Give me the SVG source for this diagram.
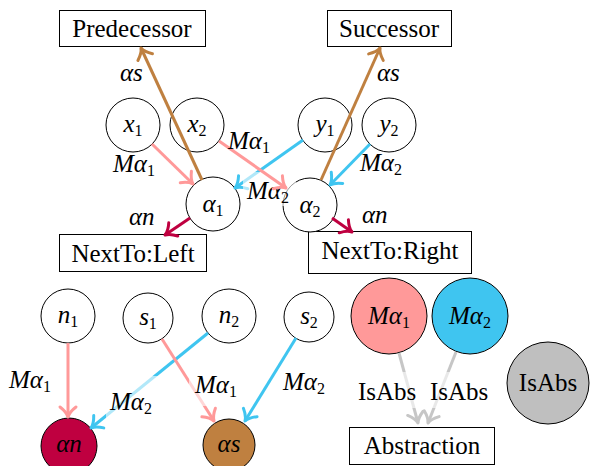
<svg xmlns="http://www.w3.org/2000/svg" width="590" height="466" viewBox="0 0 590 466" font-family="Liberation Serif, DejaVu Serif, serif" font-size="25">
<style>
.it{font-style:italic}
.sb{font-size:16px}
.c{text-anchor:middle}
.nd{fill:#fff;stroke:#000;stroke-width:1}
.bx{fill:#fff;stroke:#000;stroke-width:1}
.e{fill:none;stroke-width:3}
.pk{stroke:#FF9999}
.bl{stroke:#3FC5F0}
.br{stroke:#BF8040}
.cr{stroke:#BF0040}
.gr{stroke:#C6C6C6}
.lb{fill:#fff;fill-opacity:0.6}
</style>
<defs>
<marker id="mP" markerUnits="userSpaceOnUse" viewBox="-14 -12 18 24" refX="0" refY="0" markerWidth="18" markerHeight="24" orient="auto"><path d="M-10,-8 Q-5,-1.5 0,0 Q-5,1.5 -10,8" fill="none" stroke="#FF9999" stroke-width="3" stroke-linecap="round" stroke-linejoin="round"/></marker>
<marker id="mB" markerUnits="userSpaceOnUse" viewBox="-14 -12 18 24" refX="0" refY="0" markerWidth="18" markerHeight="24" orient="auto"><path d="M-10,-8 Q-5,-1.5 0,0 Q-5,1.5 -10,8" fill="none" stroke="#3FC5F0" stroke-width="3" stroke-linecap="round" stroke-linejoin="round"/></marker>
<marker id="mR" markerUnits="userSpaceOnUse" viewBox="-14 -12 18 24" refX="0" refY="0" markerWidth="18" markerHeight="24" orient="auto"><path d="M-10,-8 Q-5,-1.5 0,0 Q-5,1.5 -10,8" fill="none" stroke="#BF8040" stroke-width="3" stroke-linecap="round" stroke-linejoin="round"/></marker>
<marker id="mC" markerUnits="userSpaceOnUse" viewBox="-14 -12 18 24" refX="0" refY="0" markerWidth="18" markerHeight="24" orient="auto"><path d="M-10,-8 Q-5,-1.5 0,0 Q-5,1.5 -10,8" fill="none" stroke="#BF0040" stroke-width="3" stroke-linecap="round" stroke-linejoin="round"/></marker>
<marker id="mG" markerUnits="userSpaceOnUse" viewBox="-14 -12 18 24" refX="0" refY="0" markerWidth="18" markerHeight="24" orient="auto"><path d="M-10,-8 Q-5,-1.5 0,0 Q-5,1.5 -10,8" fill="none" stroke="#C6C6C6" stroke-width="3" stroke-linecap="round" stroke-linejoin="round"/></marker>
</defs>
<rect width="590" height="466" fill="#fff"/>

<g id="predecessor"><rect class="bx" x="59.5" y="10.5" width="146" height="36"/><text class="c" x="132" y="37">Predecessor</text></g>
<g id="successor"><rect class="bx" x="327.5" y="10.5" width="124" height="36"/><text class="c" x="389" y="37">Successor</text></g>
<g id="nextLeft"><rect class="bx" x="59.5" y="234.5" width="147" height="37"/><text class="c" x="133" y="262">NextTo:Left</text></g>
<g id="nextRight"><rect class="bx" x="308.5" y="231.5" width="163" height="42"/><text class="c" x="390" y="259">NextTo:Right</text></g>
<g id="abstraction"><rect class="bx" x="349.5" y="427.5" width="145" height="37"/><text class="c" x="422" y="454">Abstraction</text></g>

<g id="x1"><circle class="nd" cx="133" cy="125" r="27"/><text class="c" x="133" y="132"><tspan class="it">x</tspan><tspan class="sb" dy="4">1</tspan></text></g>
<g id="x2"><circle class="nd" cx="197" cy="125" r="27"/><text class="c" x="197" y="132"><tspan class="it">x</tspan><tspan class="sb" dy="4">2</tspan></text></g>
<g id="y1"><circle class="nd" cx="325" cy="125" r="27"/><text class="c" x="325" y="132"><tspan class="it">y</tspan><tspan class="sb" dy="4">1</tspan></text></g>
<g id="y2"><circle class="nd" cx="389" cy="125" r="27"/><text class="c" x="389" y="132"><tspan class="it">y</tspan><tspan class="sb" dy="4">2</tspan></text></g>
<g id="alpha1"><circle class="nd" cx="213" cy="204" r="27"/><text class="c" x="213" y="212"><tspan class="it">α</tspan><tspan class="sb" dy="4">1</tspan></text></g>
<g id="alpha2"><circle class="nd" cx="310" cy="205" r="27"/><text class="c" x="310" y="213"><tspan class="it">α</tspan><tspan class="sb" dy="4">2</tspan></text></g>

<g id="n1"><circle class="nd" cx="68" cy="316" r="27"/><text class="c" x="68" y="323"><tspan class="it">n</tspan><tspan class="sb" dy="4">1</tspan></text></g>
<g id="s1"><circle class="nd" cx="148" cy="318" r="25"/><text class="c" x="148" y="325"><tspan class="it">s</tspan><tspan class="sb" dy="4">1</tspan></text></g>
<g id="n2"><circle class="nd" cx="229" cy="316" r="27"/><text class="c" x="229" y="323"><tspan class="it">n</tspan><tspan class="sb" dy="4">2</tspan></text></g>
<g id="s2"><circle class="nd" cx="309" cy="317" r="25"/><text class="c" x="309" y="324"><tspan class="it">s</tspan><tspan class="sb" dy="4">2</tspan></text></g>
<g id="alphaN"><circle cx="69" cy="446" r="28" fill="#BF0040" stroke="#000" stroke-width="1"/><text class="c it" x="69" y="452">αn</text></g>
<g id="alphaS"><circle cx="229" cy="445" r="26" fill="#BF8040" stroke="#000" stroke-width="1"/><text class="c it" x="229" y="452">αs</text></g>
<g id="Malpha1"><circle cx="389" cy="316" r="38" fill="#FF9999" stroke="#000" stroke-width="1"/><text class="c" x="389" y="324"><tspan class="it">Mα</tspan><tspan class="sb" dy="4">1</tspan></text></g>
<g id="Malpha2"><circle cx="470" cy="316" r="38" fill="#3FC5F0" stroke="#000" stroke-width="1"/><text class="c" x="470" y="324"><tspan class="it">Mα</tspan><tspan class="sb" dy="4">2</tspan></text></g>
<g id="isAbs"><circle cx="548" cy="383" r="41" fill="#BFBFBF" stroke="#000" stroke-width="1"/><text class="c" x="548" y="391">IsAbs</text></g>

<g id="connectors">
<line class="e br" x1="202" y1="180" x2="141" y2="48" marker-end="url(#mR)"/>
<text class="it" x="120" y="81">αs</text>
<line class="e br" x1="321" y1="180" x2="380" y2="48" marker-end="url(#mR)"/>
<text class="it" x="377" y="81">αs</text>
<line class="e pk" x1="152" y1="144" x2="193" y2="184" marker-end="url(#mP)"/>
<text x="113" y="172"><tspan class="it">Mα</tspan><tspan class="sb" dy="4">1</tspan></text>
<line class="e bl" x1="303" y1="140" x2="235" y2="188" marker-end="url(#mB)"/>
<rect class="lb" x="243" y="172" width="53" height="34"/>
<text x="247" y="199"><tspan class="it">Mα</tspan><tspan class="sb" dy="4">2</tspan></text>
<line class="e pk" x1="219" y1="141" x2="286" y2="188" marker-end="url(#mP)"/>
<text x="228" y="149"><tspan class="it">Mα</tspan><tspan class="sb" dy="4">1</tspan></text>
<line class="e bl" x1="370" y1="144" x2="330" y2="185" marker-end="url(#mB)"/>
<text x="360" y="171"><tspan class="it">Mα</tspan><tspan class="sb" dy="4">2</tspan></text>
<line class="e cr" x1="190" y1="218" x2="165" y2="235" marker-end="url(#mC)"/>
<text class="it" x="129" y="225">αn</text>
<line class="e cr" x1="332" y1="218" x2="352" y2="232" marker-end="url(#mC)"/>
<text class="it" x="362" y="223">αn</text>

<line class="e pk" x1="68" y1="343" x2="68" y2="417" marker-end="url(#mP)"/>
<text x="9" y="388"><tspan class="it">Mα</tspan><tspan class="sb" dy="4">1</tspan></text>
<line class="e bl" x1="208" y1="333" x2="91" y2="428" marker-end="url(#mB)"/>
<rect class="lb" x="106" y="376" width="54" height="42"/>
<text x="110" y="410"><tspan class="it">Mα</tspan><tspan class="sb" dy="4">2</tspan></text>
<line class="e pk" x1="162" y1="339" x2="214" y2="421" marker-end="url(#mP)"/>
<rect class="lb" x="189" y="370" width="56" height="36"/>
<text x="195" y="393"><tspan class="it">Mα</tspan><tspan class="sb" dy="4">1</tspan></text>
<line class="e bl" x1="296" y1="338" x2="245" y2="421" marker-end="url(#mB)"/>
<text x="283" y="390"><tspan class="it">Mα</tspan><tspan class="sb" dy="4">2</tspan></text>

<line class="e gr" x1="399" y1="353" x2="418" y2="423" marker-end="url(#mG)"/>
<rect class="lb" x="355" y="372" width="66" height="36"/>
<text x="358" y="400">IsAbs</text>
<line class="e gr" x1="456" y1="352" x2="428" y2="423" marker-end="url(#mG)"/>
<rect class="lb" x="427" y="372" width="66" height="36"/>
<text x="430" y="400">IsAbs</text>
</g>
</svg>
